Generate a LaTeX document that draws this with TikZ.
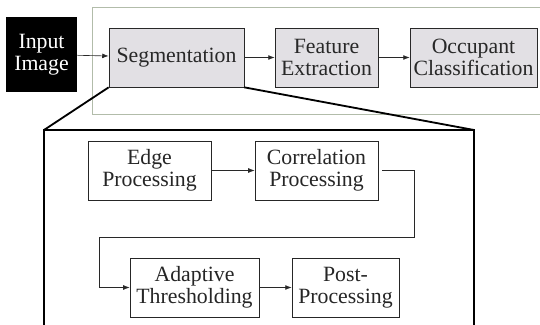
\documentclass[tikz,border=0pt]{standalone}
\usepackage{fontspec}
\setmainfont{Liberation Serif}
\usetikzlibrary{arrows.meta}

\definecolor{boxgray}{RGB}{226,224,228}
\definecolor{framegreen}{RGB}{178,188,170}
\definecolor{inkgray}{RGB}{40,40,40}

\tikzset{
	stage/.style={draw=inkgray, fill=boxgray, text=inkgray, align=center,
		inner sep=0pt, minimum height=14.75mm, line width=0.5pt},
	substage/.style={draw=black!85, fill=white, text=black!85, align=center,
		inner sep=0pt, minimum height=14.75mm, line width=0.5pt},
	flow/.style={draw=inkgray, line width=0.45pt, -{Latex[length=1.6mm,width=1.2mm]}},
	zoomline/.style={line width=1.3pt, black},
}

\begin{document}
\begin{tikzpicture}[x=0.25mm, y=-0.25mm, font=\fontsize{15.5}{15.6}\selectfont]
	\clip (0,0) rectangle (540,325);

	% frame round the pipeline
	\draw[framegreen, line width=0.6pt] (92,7) rectangle (560,114);

	% pipeline
	\node[fill=black, text=white, align=center, inner sep=0pt,
		minimum width=17.75mm, minimum height=18.75mm] (input) at (41.5,54.5) {Input\\Image};
	\node[stage, minimum width=33.75mm] (seg) at (176.5,57.5) {Segmentation};
	\node[stage, minimum width=25.75mm] (feat) at (326.5,57.5) {Feature\\Extraction};
	\node[stage, minimum width=31.75mm] (occ) at (473.5,57.5) {Occupant\\Classification};

	\draw[flow] (input) -- (seg);
	\draw[flow] (seg) -- (feat);
	\draw[flow] (feat) -- (occ);

	% zoomed segmentation
	\coordinate (zoomTL) at (44,130);
	\coordinate (zoomTR) at (474,130);
	\coordinate (zoomBL) at (44,330);
	\coordinate (zoomBR) at (474,330);
	\draw[line width=1pt] (zoomBL) -- (zoomTL) -- (zoomTR) -- (zoomBR);
	\draw[zoomline] (seg.south west) -- (zoomTL);
	\draw[zoomline] (seg.south east) -- (zoomTR);

	\node[substage, minimum width=30.75mm] (edge) at (149.5,170.5) {Edge\\Processing};
	\node[substage, minimum width=30.75mm] (corr) at (316.5,170.5) {Correlation\\Processing};
	\node[substage, minimum width=32.25mm] (adapt) at (194.5,287.5) {Adaptive\\Thresholding};
	\node[substage, minimum width=26.75mm] (post) at (345.5,287.5) {Post-\\Processing};

	\coordinate (loopR) at (414,237);
	\coordinate (loopL) at (99,237);

	\draw[flow] (edge) -- (corr);
	\draw[flow] ([xshift=1mm]corr.east) -| (loopR) -- (loopL) |- (adapt.west);
	\draw[flow] (adapt) -- (post);
\end{tikzpicture}
\end{document}
